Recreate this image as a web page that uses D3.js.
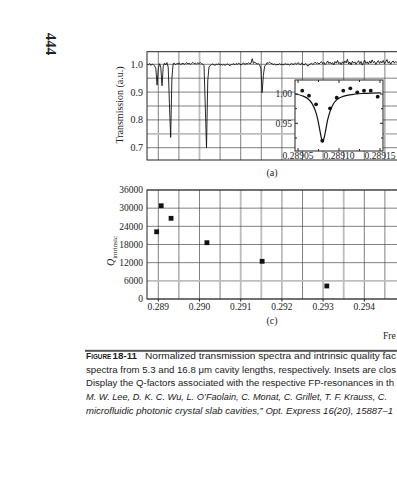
<!DOCTYPE html>
<html><head><meta charset="utf-8">
<script src="https://cdn.jsdelivr.net/npm/d3@7"></script>
<style>
html,body{margin:0;padding:0;background:#fff;overflow:hidden;}
svg{display:block;}
</style></head>
<body>
<script>
// ---------- DATA ----------
const pageNumber = "444";
// Panel (a): transmission spectrum, sampled from spectrumStart every spectrumStep
const spectrumStart = 0.28873;
const spectrumStep = 0.00003;
const transmission = [
 1.000,0.998,1.003,0.996,1.001,0.999,0.994,0.985,0.925,0.985,
 1.002,0.990,0.923,0.992,1.004,0.998,1.006,0.990,0.860,0.737,
 0.950,1.002,1.004,0.998,1.003,1.001,1.005,0.999,1.002,1.004,
 1.000,1.003,1.006,1.001,1.004,1.000,1.003,1.007,1.002,1.004,
 1.001,1.005,1.003,1.006,1.002,1.001,0.995,0.850,0.700,0.940,
 0.990,0.996,0.999,1.001,0.998,0.997,1.000,0.999,1.002,0.998,
 0.999,0.997,1.000,0.996,0.999,1.001,0.998,0.995,0.999,1.000,
 1.002,0.998,1.003,0.999,1.004,1.001,0.997,1.002,1.005,0.999,
 1.003,1.001,1.006,1.002,1.004,1.020,1.003,1.008,1.004,1.001,
 1.002,0.998,0.985,0.898,0.960,0.993,0.998,1.006,1.003,1.008,
 1.004,1.002,0.999,1.001,0.997,1.000,0.998,1.002,0.999,1.001,
 0.998,1.000,1.002,0.999,1.001,0.997,1.000,1.003,0.999,1.001,
 1.004,1.000,1.006,1.002,0.998,1.005,1.001,0.997,1.003,0.999,
 0.993,0.998,1.001,1.004,0.999,1.003,1.008,1.002,1.006,1.001,
 1.005,1.010,1.002,1.007,0.999,1.004,1.012,1.003,1.008,1.001,
 1.006,0.998,1.010,1.004,1.014,1.002,1.007,0.999,1.009,1.003,
 1.012,1.005,1.018,1.001,1.008,0.998,1.011,1.004,1.009,1.000,
 1.007,1.013,1.002,1.010,0.997,1.006,1.015,1.003,1.009,1.001,
 1.012,1.004,1.016,1.006,1.010,0.999,1.008,1.013,1.003,1.011,
 1.005,1.014,1.002,1.009,1.017,1.004,1.010,1.000,1.008,1.012,
 1.004,1.010,1.006,1.002
];
const transTicks = [0.7, 0.8, 0.9, 1.0];
const transTickLabels = ["0.7", "0.8", "0.9", "1.0"];

// Inset: measured points and fit
const insetFreq = [0.2890552,0.2890634,0.2890720,0.2890796,0.2890890,0.2890972,0.2891052,0.2891138,0.2891223,0.2891305,0.2891387,0.2891472];
const insetT    = [1.0056,0.9971,0.9824,0.9203,0.9756,0.9937,1.0056,1.0097,1.0029,1.0056,1.0056,0.9954];
const fitFreq = [0.289047,0.289055,0.289062,0.289067,0.289071,0.289074,0.289076,0.289078,0.289080,0.289082,0.289084,0.289086,0.289089,0.289093,0.289098,0.289105,0.289115,0.289130,0.289151];
const fitT    = [1.000,0.997,0.992,0.984,0.972,0.957,0.943,0.928,0.918,0.926,0.940,0.955,0.970,0.983,0.991,0.996,0.999,1.001,1.002];
const insetXTicks = [0.28905, 0.28910, 0.28915];
const insetXLabels = ["0.28905", "0.28910", "0.28915"];
const insetYTicks = [0.95, 1.00];
const insetYLabels = ["0.95", "1.00"];

// Panel (c): intrinsic Q factors
const qFreq = [0.28896, 0.28907, 0.28931, 0.29018, 0.29152, 0.29309];
const qValue = [22200, 30800, 26650, 18600, 12450, 4300];
const qTicks = [0, 6000, 12000, 18000, 24000, 30000, 36000];
const freqTicks = [0.289, 0.290, 0.291, 0.292, 0.293, 0.294];
const freqLabels = ["0.289", "0.290", "0.291", "0.292", "0.293", "0.294"];

const captionFirst = "Normalized transmission spectra and intrinsic quality fac";
const captionLines = [
 "spectra from 5.3 and 16.8 \u03bcm cavity lengths, respectively. Insets are clos",
 "Display the Q-factors associated with the respective FP-resonances in th"
];
const captionItalic = [
 "M. W. Lee, D. K. C. Wu, L. O\u2019Faolain, C. Monat, C. Grillet, T. F. Krauss, C.",
 "microfluidic photonic crystal slab cavities,\u201d Opt. Express 16(20), 15887\u20131"
];

// ---------- DRAW ----------
const W = 397, H = 480;
const svg = d3.select("body").append("svg").attr("width", W).attr("height", H);
svg.append("rect").attr("width", W).attr("height", H).attr("fill", "#fff");
const serif = "'Liberation Serif','Times New Roman',serif";
const sans = "'Liberation Sans',Arial,sans-serif";

// page number
svg.append("text").attr("transform", "translate(46,44) rotate(90)")
  .attr("text-anchor", "middle").attr("font-family", serif).attr("font-weight", "bold")
  .attr("font-size", 15).attr("fill", "#222").text(pageNumber);

// shared frequency scale
const x = d3.scaleLinear().domain([0.289, 0.294]).range([158.3, 364.3]);
const frameL = 147, frameR = 430;
const gridFreqs = d3.range(0, 13).map(i => 0.2885 + i * 0.0005);

function gridStyle(sel, light) {
  sel.attr("stroke", light ? "#bdbdbd" : "#4a4a4a").attr("stroke-width", light ? 1.8 : 0.7);
}

// ---- Panel (a) ----
const yT = d3.scaleLinear().domain([0.7, 1.0]).range([147.7, 64.3]);
const aTop = 51.7, aBot = 160;
const gA = svg.append("g");
const lightA_x = [0.290];
const lightA_y = [0.75];
gridFreqs.filter(f => x(f) > frameL + 1).forEach(f => {
  gA.append("line").attr("x1", x(f)).attr("x2", x(f)).attr("y1", aTop).attr("y2", aBot)
    .call(gridStyle, lightA_x.some(v => Math.abs(v - f) < 1e-7));
});
d3.range(0, 7).map(i => 0.70 + i * 0.05).forEach(v => {
  gA.append("line").attr("x1", frameL).attr("x2", frameR).attr("y1", yT(v)).attr("y2", yT(v))
    .call(gridStyle, lightA_y.some(u => Math.abs(u - v) < 1e-7));
});
const specData = transmission.map((t, i) => [spectrumStart + i * spectrumStep, t]);
svg.append("clipPath").attr("id", "clipA").append("rect")
  .attr("x", frameL).attr("y", aTop).attr("width", frameR - frameL).attr("height", aBot - aTop);
gA.append("path").datum(specData).attr("clip-path", "url(#clipA)")
  .attr("d", d3.line().x(d => x(d[0])).y(d => yT(d[1])))
  .attr("fill", "none").attr("stroke", "#111").attr("stroke-width", 0.9);
gA.append("rect").attr("x", frameL).attr("y", aTop).attr("width", frameR - frameL).attr("height", aBot - aTop)
  .attr("fill", "none").attr("stroke", "#222").attr("stroke-width", 1);
transTicks.forEach((v, i) => {
  gA.append("text").attr("x", 143).attr("y", yT(v) + 3.5).attr("text-anchor", "end")
    .attr("font-family", serif).attr("font-size", 10).attr("fill", "#222").text(transTickLabels[i]);
});
svg.append("text").attr("transform", "translate(123,105) rotate(-90)").attr("text-anchor", "middle")
  .attr("font-family", serif).attr("font-size", 10).attr("fill", "#222").text("Transmission (a.u.)");
svg.append("text").attr("x", 272).attr("y", 176).attr("text-anchor", "middle")
  .attr("font-family", serif).attr("font-size", 10).attr("fill", "#222").text("(a)");

// ---- Inset ----
const iL = 295, iR = 383, iT = 80, iB = 151;
const xi = d3.scaleLinear().domain([0.28905, 0.28915]).range([298, 380]);
const yi = d3.scaleLinear().domain([0.95, 1.00]).range([123.3, 94]);
const gI = svg.append("g");
gI.append("rect").attr("x", iL).attr("y", iT).attr("width", iR - iL).attr("height", iB - iT)
  .attr("fill", "#fff").attr("stroke", "#222").attr("stroke-width", 1);
const fitData = fitFreq.map((f, i) => [f, fitT[i]]);
gI.append("path").datum(fitData)
  .attr("d", d3.line().curve(d3.curveMonotoneX).x(d => xi(d[0])).y(d => yi(d[1])))
  .attr("fill", "none").attr("stroke", "#111").attr("stroke-width", 1.2);
gI.selectAll("circle.pt").data(insetFreq.map((f, i) => [f, insetT[i]])).enter().append("circle")
  .attr("cx", d => xi(d[0])).attr("cy", d => yi(d[1])).attr("r", 1.9).attr("fill", "#111");
const insetMinorX = [0.289075, 0.289125];
insetXTicks.concat(insetMinorX).forEach((f, k) => {
  const len = k < insetXTicks.length ? 3 : 2;
  gI.append("line").attr("x1", xi(f)).attr("x2", xi(f)).attr("y1", iB).attr("y2", iB - len).attr("stroke", "#222");
  gI.append("line").attr("x1", xi(f)).attr("x2", xi(f)).attr("y1", iT).attr("y2", iT + len).attr("stroke", "#222");
});
insetXTicks.forEach((f, i) => {
  gI.append("text").attr("x", xi(f)).attr("y", iB + 7.5).attr("text-anchor", "middle")
    .attr("font-family", serif).attr("font-size", 9.5).attr("fill", "#222").text(insetXLabels[i]);
});
insetYTicks.concat([0.925, 0.975]).forEach((v, k) => {
  const len = k < insetYTicks.length ? 3 : 2;
  gI.append("line").attr("x1", iL).attr("x2", iL + len).attr("y1", yi(v)).attr("y2", yi(v)).attr("stroke", "#222");
  gI.append("line").attr("x1", iR).attr("x2", iR - len).attr("y1", yi(v)).attr("y2", yi(v)).attr("stroke", "#222");
});
insetYTicks.forEach((v, i) => {
  gI.append("text").attr("x", iL - 3).attr("y", yi(v) + 3.3).attr("text-anchor", "end")
    .attr("font-family", serif).attr("font-size", 9.5).attr("fill", "#222").text(insetYLabels[i]);
});

// ---- Panel (c) ----
const yQ = d3.scaleLinear().domain([0, 36000]).range([299, 190]);
const cTop = 190, cBot = 299;
const gC = svg.append("g");
const lightC_x = [0.291, 0.2915, 0.292, 0.293, 0.2935];
gridFreqs.filter(f => x(f) > frameL + 1).forEach(f => {
  gC.append("line").attr("x1", x(f)).attr("x2", x(f)).attr("y1", cTop).attr("y2", cBot)
    .call(gridStyle, lightC_x.some(v => Math.abs(v - f) < 1e-7));
});
qTicks.forEach(v => {
  gC.append("line").attr("x1", frameL).attr("x2", frameR).attr("y1", yQ(v)).attr("y2", yQ(v))
    .call(gridStyle, v === 6000);
});
gC.append("rect").attr("x", frameL).attr("y", cTop).attr("width", frameR - frameL).attr("height", cBot - cTop)
  .attr("fill", "none").attr("stroke", "#222").attr("stroke-width", 1);
gC.selectAll("rect.q").data(qFreq.map((f, i) => [f, qValue[i]])).enter().append("rect")
  .attr("x", d => x(d[0]) - 2.4).attr("y", d => yQ(d[1]) - 2.4).attr("width", 4.8).attr("height", 4.8)
  .attr("fill", "#111");
qTicks.forEach(v => {
  gC.append("text").attr("x", 143).attr("y", yQ(v) + 3.3).attr("text-anchor", "end")
    .attr("font-family", serif).attr("font-size", 9.5).attr("fill", "#222").text(v);
});
freqTicks.forEach((f, i) => {
  gC.append("line").attr("x1", x(f)).attr("x2", x(f)).attr("y1", cBot).attr("y2", cBot + 2.5).attr("stroke", "#222");
  gC.append("text").attr("x", x(f)).attr("y", 310).attr("text-anchor", "middle")
    .attr("font-family", serif).attr("font-size", 9.5).attr("fill", "#222").text(freqLabels[i]);
});
const ql = svg.append("text").attr("transform", "translate(114,251) rotate(-90)").attr("text-anchor", "middle")
  .attr("font-family", serif).attr("font-size", 10).attr("fill", "#222");
ql.append("tspan").attr("font-style", "italic").text("Q");
ql.append("tspan").attr("font-size", 7).attr("dy", 2.5).text("intrinsic");
svg.append("text").attr("x", 272).attr("y", 324).attr("text-anchor", "middle")
  .attr("font-family", serif).attr("font-size", 10).attr("fill", "#222").text("(c)");
svg.append("text").attr("x", 383).attr("y", 339)
  .attr("font-family", serif).attr("font-size", 9.5).attr("fill", "#222").text("Fre");

// ---- Caption ----
svg.append("rect").attr("x", 85).attr("y", 349.8).attr("width", 320).attr("height", 2).attr("fill", "#555");
const capSize = 9.6;
const capRight = 396;
const capLabel = [["F", 86, 8.4], ["IGURE", 91.2, 6.3], ["18-11", 112.5, 9.8]];
capLabel.forEach(([t, xx, fs]) => {
  svg.append("text").attr("x", xx).attr("y", 359).attr("font-family", sans).attr("font-weight", "bold")
    .attr("font-size", fs).attr("fill", "#1a1a1a").text(t);
});
svg.append("text").attr("x", 145).attr("y", 359).attr("font-family", sans).attr("font-size", capSize)
  .attr("fill", "#1a1a1a").attr("textLength", capRight - 145).attr("lengthAdjust", "spacingAndGlyphs")
  .text(captionFirst);
captionLines.forEach((t, i) => {
  svg.append("text").attr("x", 86).attr("y", 372.7 + i * 13.7).attr("font-family", sans)
    .attr("font-size", capSize).attr("fill", "#1a1a1a")
    .attr("textLength", (i === 0 ? capRight : capRight - 2) - 86).attr("lengthAdjust", "spacingAndGlyphs").text(t);
});
captionItalic.forEach((t, i) => {
  svg.append("text").attr("x", 86).attr("y", 400.1 + i * 13.7).attr("font-family", sans)
    .attr("font-style", "italic").attr("font-size", 9.1).attr("fill", "#1a1a1a")
    .attr("textLength", (i === 0 ? capRight - 9 : capRight - 3) - 86).attr("lengthAdjust", "spacingAndGlyphs").text(t);
});
</script>
</body></html>
